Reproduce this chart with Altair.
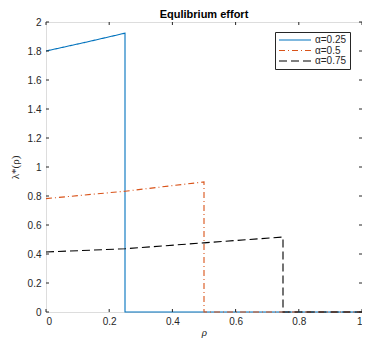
import altair as alt
import pandas as pd

series = ["α=0.25", "α=0.5", "α=0.75"]

rho_025 = [0.0, 0.125, 0.25, 0.25, 1.0]
lam_025 = [1.800, 1.860, 1.923, 0.0, 0.0]

rho_050 = [0.0, 0.25, 0.5, 0.5, 1.0]
lam_050 = [0.782, 0.833, 0.897, 0.0, 0.0]

rho_075 = [0.0, 0.25, 0.5, 0.75, 0.75, 1.0]
lam_075 = [0.414, 0.436, 0.477, 0.517, 0.0, 0.0]

x_ticks = [0, 0.2, 0.4, 0.6, 0.8, 1.0]
y_ticks = [0, 0.2, 0.4, 0.6, 0.8, 1.0, 1.2, 1.4, 1.6, 1.8, 2.0]

colors = ["#0072BD", "#D95319", "#000000"]
dashes = [[1, 0], [6, 3, 1, 3], [8, 4]]

rows = []
for name, xs, ys in zip(series, [rho_025, rho_050, rho_075], [lam_025, lam_050, lam_075]):
    for i, (a, b) in enumerate(zip(xs, ys)):
        rows.append({"series": name, "rho": a, "lam": b, "order": i})
df = pd.DataFrame(rows)

AX = "#262626"
W, H = 316, 290

xscale = alt.Scale(domain=[0, 1], nice=False, zero=False)
yscale = alt.Scale(domain=[0, 2], nice=False, zero=False)

x_axis = alt.Axis(values=x_ticks, title="ρ", grid=False, domain=False, ticks=False,
                  labelPadding=4, labelFontSize=10, labelColor=AX, labelFont="Liberation Sans",
                  labelOverlap=False,
                  titleFont="Liberation Serif", titleFontStyle="italic", titleFontWeight="normal",
                  titleFontSize=11, titleColor=AX, titlePadding=0,
                  labelExpr="format(datum.value, '~g')")
y_axis = alt.Axis(values=y_ticks, title="λ*(ρ)", grid=False, domain=False, ticks=False,
                  labelPadding=5, labelFontSize=10, labelColor=AX, labelFont="Liberation Sans",
                  labelOverlap=False,
                  titleFont="Liberation Serif", titleFontWeight="normal",
                  titleFontSize=11, titleColor=AX, titlePadding=7,
                  labelExpr="format(datum.value, '~g')")

lines = alt.Chart(df).mark_line(strokeWidth=1.1).encode(
    x=alt.X("rho:Q", scale=xscale, axis=x_axis),
    y=alt.Y("lam:Q", scale=yscale, axis=y_axis),
    color=alt.Color("series:N", scale=alt.Scale(domain=series, range=colors),
                    legend=alt.Legend(title=None, orient="none", legendX=229, legendY=10,
                                      symbolType="M-4,0H4", symbolSize=64, symbolStrokeWidth=1.1,
                                      symbolOffset=12, labelOffset=15,
                                      strokeColor=AX, fillColor="white", padding=3,
                                      labelFont="Liberation Sans", labelFontSize=10, labelColor=AX,
                                      rowPadding=0.5)),
    strokeDash=alt.StrokeDash("series:N", scale=alt.Scale(domain=series, range=dashes), legend=None),
    order="order:Q",
    detail="series:N",
)

xt = pd.DataFrame({"rho": x_ticks})
yt = pd.DataFrame({"lam": y_ticks})

tick_b = alt.Chart(xt).mark_rule(color=AX, strokeWidth=1).encode(
    x=alt.X("rho:Q", scale=xscale, axis=x_axis), y=alt.value(H), y2=alt.value(H - 3))
tick_t = alt.Chart(xt).mark_rule(color=AX, strokeWidth=1).encode(
    x=alt.X("rho:Q", scale=xscale, axis=x_axis), y=alt.value(0), y2=alt.value(3))
tick_l = alt.Chart(yt).mark_rule(color=AX, strokeWidth=1).encode(
    y=alt.Y("lam:Q", scale=yscale, axis=y_axis), x=alt.value(0), x2=alt.value(3))
tick_r = alt.Chart(yt).mark_rule(color=AX, strokeWidth=1).encode(
    y=alt.Y("lam:Q", scale=yscale, axis=y_axis), x=alt.value(W), x2=alt.value(W - 3))

chart = alt.layer(lines, tick_b, tick_t, tick_l, tick_r).properties(
    width=W, height=H,
    padding={"left": 38, "top": 14, "right": 0, "bottom": 26},
    autosize=alt.AutoSizeParams(type="none"),
    title=alt.Title("Equlibrium effort", fontSize=11, fontWeight="bold", font="Liberation Sans",
                    color="#000000", offset=-3, anchor="middle"),
).configure_view(stroke=AX, strokeWidth=1.2).configure_axis(labelOverlap=False).configure(background="white")

chart.save("out.html", embed_options={"renderer": "svg", "actions": False})
